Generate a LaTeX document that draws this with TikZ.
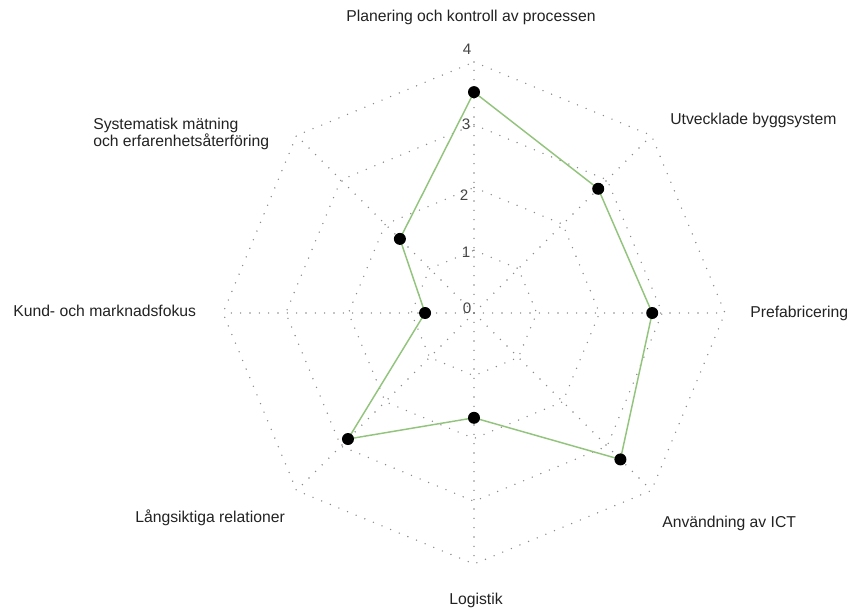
\documentclass[tikz,border=0pt]{standalone}
\usepackage{fontspec}
\setmainfont{Liberation Sans}
\definecolor{seriesgreen}{HTML}{93C47D}
\definecolor{gridgray}{HTML}{8A8A8A}
\definecolor{labeltext}{HTML}{222222}
\definecolor{ticktext}{HTML}{444444}
\begin{document}
\begin{tikzpicture}[x=0.75pt,y=0.75pt,
  gridline/.style={draw=gridgray, line width=1.15pt, dash pattern=on 0pt off 7pt, line cap=round},
  series/.style={draw=seriesgreen, line width=1.1pt, line join=round},
  datapt/.style={circle, fill=black, inner sep=0pt, minimum size=9pt},
  axislabel/.style={text=labeltext, font=\fontsize{11.8}{12.75}\selectfont, inner sep=0pt},
  ticklabel/.style={text=ticktext, font=\fontsize{11.4}{13}\selectfont, inner sep=0pt}]
\useasboundingbox (-474,-295) rectangle (374,313);

% centre and outer vertices of the eight axes
\coordinate (o) at (0,0);
\foreach \i/\a in {1/90,2/45,3/0,4/-45,5/-90,6/-135,7/180,8/135}
  \coordinate (v\i) at (\a:251);

% octagonal grid rings, one per level
\foreach \r in {62.75,125.5,188.25,251}
  \draw[gridline] (90:\r) -- (45:\r) -- (0:\r) -- (-45:\r) -- (-90:\r)
    -- (-135:\r) -- (180:\r) -- (135:\r) -- cycle;

% spokes
\foreach \i in {1,...,8}
  \draw[gridline] (o) -- (v\i);

% level numbers
\node[ticklabel] (t4) at (-7,264) {4};
\node[ticklabel] (t3) at (-8,189) {3};
\node[ticklabel] (t2) at (-10,118) {2};
\node[ticklabel] (t1) at (-8,61) {1};
\node[ticklabel] (t0) at (-7,5) {0};

% data values
\foreach \i/\a/\v in {1/90/3.52,2/45/2.8,3/0/2.84,4/-45/3.3,5/-90/1.67,6/-135/2.84,7/180/0.78,8/135/1.67}
  \coordinate (d\i) at (\a:{\v*62.75});

\draw[series] (d1) -- (d2) -- (d3) -- (d4) -- (d5) -- (d6) -- (d7) -- (d8) -- cycle;

\foreach \i in {1,...,8}
  \node[datapt] (p\i) at (d\i) {};

% axis titles
\node[axislabel] (a1) at (-3,296) {Planering och kontroll av processen};
\node[axislabel, anchor=west] (a2) at (196,193) {Utvecklade byggsystem};
\node[axislabel, anchor=west] (a3) at (276,0) {Prefabricering};
\node[axislabel, anchor=west] (a4) at (188,-210) {Användning av ICT};
\node[axislabel] (a5) at (2,-287) {Logistik};
\node[axislabel, anchor=west] (a6) at (-339,-205) {Långsiktiga relationer};
\node[axislabel, anchor=west] (a7) at (-461,2) {Kund- och marknadsfokus};
\node[axislabel, anchor=west, align=left] (a8) at (-381,179.5) {Systematisk mätning\\och erfarenhetsåterföring};
\end{tikzpicture}
\end{document}
